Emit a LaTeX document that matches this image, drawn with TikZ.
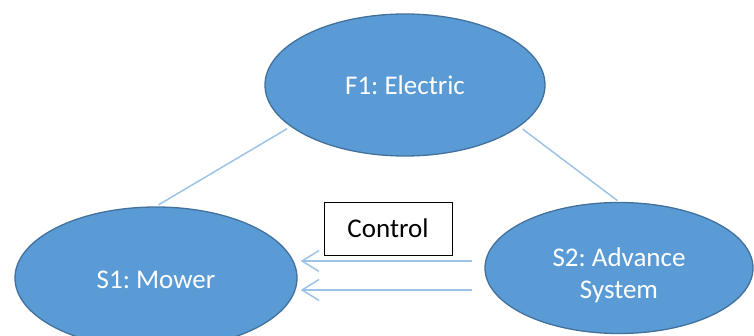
\documentclass[tikz,border=0pt]{standalone}
\usepackage{fontspec}
\setmainfont{Carlito}
\frenchspacing
\usetikzlibrary{shapes.geometric,arrows.meta}
\definecolor{ofblue}{HTML}{5B9BD5}
\definecolor{ofborder}{HTML}{41719C}
\definecolor{linkblue}{HTML}{9DC3E6}
\begin{document}
\begin{tikzpicture}[x=1pt,y=-1pt,
  blob/.style={ellipse, draw=ofborder, fill=ofblue, line width=1.3pt,
    inner sep=0pt, text=white, align=center,
    font=\fontsize{27}{32}\selectfont},
  ctrlbox/.style={rectangle, draw=black, line width=0.9pt, fill=white,
    minimum width=128pt, minimum height=53pt, inner sep=0pt,
    font=\fontsize{27}{32}\selectfont},
  link/.style={draw=linkblue, line width=1.5pt},
  ctrlarrow/.style={draw=linkblue, line width=1.5pt,
    -{Straight Barb[length=17pt,width=21pt,line width=1.5pt]}}
]
\useasboundingbox (0,0) rectangle (754,336);
\clip (0,0) rectangle (754,336);
\node[blob, minimum width=280pt, minimum height=142pt] (F1) at (405,85) {F1: Electric};
\node[blob, minimum width=282pt, minimum height=142pt] (S1) at (156,278) {\raisebox{-10.5pt}[0pt][0pt]{S1: Mower}};
\node[blob, minimum width=268pt, minimum height=131pt] (S2) at (619,268) {\raisebox{-14pt}[0pt][0pt]{\begin{tabular}{@{}c@{}}S2: Advance\\System\end{tabular}}};
\node[ctrlbox] (C) at (388,228.5) {Control};
\draw[link, shorten <=4pt, shorten >=3pt] (F1.200) -- (S1.north);
\draw[link, shorten <=4pt, shorten >=2pt] (F1.340) -- (S2.north);
\draw[ctrlarrow] ([xshift=-12pt,yshift=7pt]S2.west) -- ([xshift=3pt,yshift=7pt]S2.west -| S1.east);
\draw[ctrlarrow] ([xshift=-12pt,yshift=-22pt]S2.west) -- ([xshift=3pt,yshift=-22pt]S2.west -| S1.east);
\end{tikzpicture}
\end{document}
